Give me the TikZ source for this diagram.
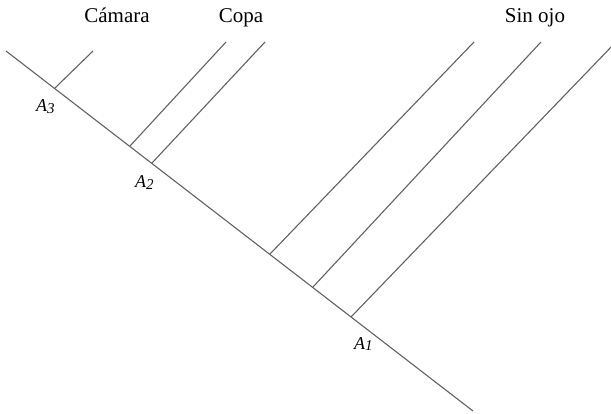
\documentclass[tikz,border=0pt]{standalone}
\usepackage{fontspec}
\setmainfont{Liberation Serif}
\begin{document}
\begin{tikzpicture}[x=1pt,y=-1pt,
  branch/.style={draw=black!62,line width=1.1pt},
  taxon/.style={font=\fontsize{21}{25}\selectfont,anchor=base,inner sep=0pt},
  anc/.style={font=\fontsize{18}{22}\selectfont\itshape,anchor=base west,inner sep=0pt}]
\useasboundingbox (0,0) rectangle (611,414);
\clip (0,0) rectangle (611,414);
% main line
\coordinate (s) at (6,51);
\coordinate (e) at (473,411);
\draw[branch] (s) -- (e);
% branch points and tips
\coordinate (b1) at (55,88);   \coordinate (t1) at (93,51);
\coordinate (b2) at (130,146); \coordinate (t2) at (226,42);
\coordinate (b3) at (152,163); \coordinate (t3) at (265,42);
\coordinate (b4) at (270,254); \coordinate (t4) at (474,42);
\coordinate (b5) at (313,287); \coordinate (t5) at (541,42);
\coordinate (b6) at (351,317); \coordinate (t6) at (615,43);
\foreach \i in {1,...,6} \draw[branch] (b\i) -- (t\i);
% labels
\node[taxon] (camara) at (117,23) {Cámara};
\node[taxon] (copa) at (241,23) {Copa};
\node[taxon] (sinojo) at (535,23) {Sin ojo};
\node[anc] (a3) at (36,112) {A\raisebox{-1.5pt}{\fontsize{15}{18}\selectfont 3}};
\node[anc] (a2) at (135,188) {A\raisebox{-1.5pt}{\fontsize{15}{18}\selectfont 2}};
\node[anc] (a1) at (354,349) {A\raisebox{-1.5pt}{\fontsize{15}{18}\selectfont 1}};
\end{tikzpicture}
\end{document}
